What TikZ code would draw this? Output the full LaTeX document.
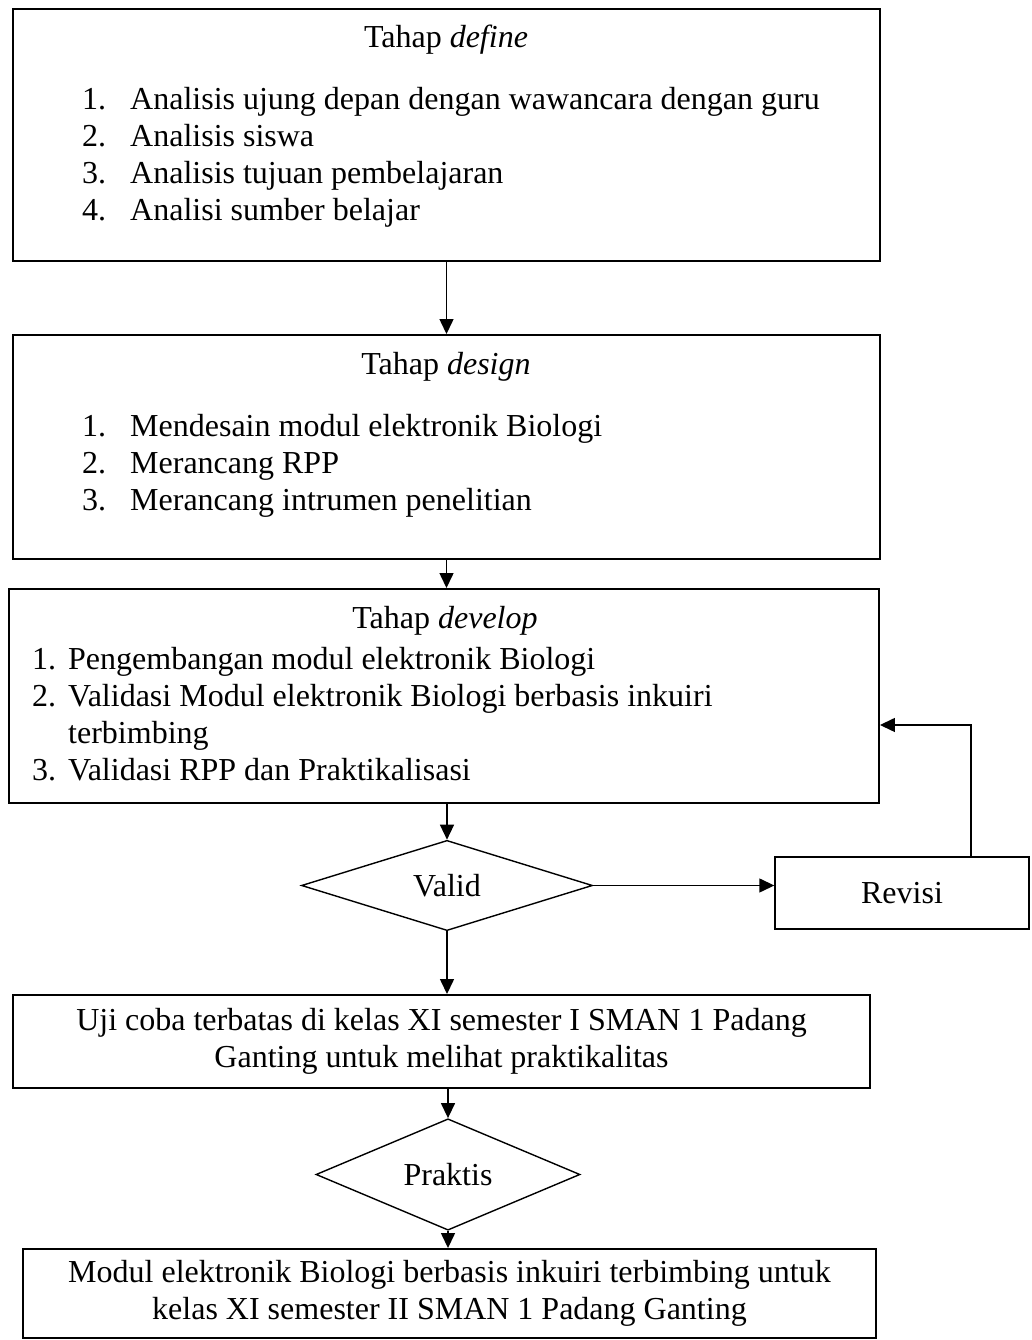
\documentclass[tikz,border=0pt]{standalone}
\usepackage{fontspec}
\setmainfont{Liberation Serif}
\usepackage{tikz}
\usetikzlibrary{arrows.meta}
\usetikzlibrary{shapes.geometric}

\begin{document}
\begin{tikzpicture}[>={Triangle[length=15bp,width=14bp]},line join=miter,
  font=\fontsize{32bp}{37bp}\selectfont,
  box/.style={draw,line width=1.9bp,inner sep=0pt},
  decision/.style={diamond,draw,line width=1.4bp,inner sep=0pt},
  txt/.style={inner sep=0pt}]
\useasboundingbox (0bp,0bp) rectangle (1032bp,1340bp);
%%
\node (node_define) at (446.5bp,1205bp) [box,minimum width=867bp,minimum height=252bp] {};
  \node (define_title) at (446bp,1292bp) [txt,anchor=base] {Tahap \textit{define}};
  \node (define_list) at (82bp,1230bp) [txt,anchor=base west] {\begin{tabular}[t]{@{}p{48bp}@{}l@{}}
    1. & Analisis ujung depan dengan wawancara dengan guru\\
    2. & Analisis siswa\\
    3. & Analisis tujuan pembelajaran\\
    4. & Analisi sumber belajar
  \end{tabular}};
  \node (node_design) at (446.5bp,893bp) [box,minimum width=867bp,minimum height=224bp] {};
  \node (design_title) at (446bp,965bp) [txt,anchor=base] {Tahap \textit{design}};
  \node (design_list) at (82bp,903bp) [txt,anchor=base west] {\begin{tabular}[t]{@{}p{48bp}@{}l@{}}
    1. & Mendesain modul elektronik Biologi\\
    2. & Merancang RPP\\
    3. & Merancang intrumen penelitian
  \end{tabular}};
  \node (node_develop) at (444bp,644bp) [box,minimum width=870bp,minimum height=214bp] {};
  \node (develop_title) at (445bp,711bp) [txt,anchor=base] {Tahap \textit{develop}};
  \node (develop_list) at (32bp,670bp) [txt,anchor=base west] {\begin{tabular}[t]{@{}p{36bp}@{}l@{}}
    1. & Pengembangan modul elektronik Biologi\\
    2. & Validasi Modul elektronik Biologi berbasis inkuiri\\
       & terbimbing\\
    3. & Validasi RPP dan Praktikalisasi
  \end{tabular}};
  \node (node_valid) at (447bp,454.5bp) [decision,minimum width=291bp,minimum height=87bp] {Valid};
  \node (node_revisi) at (902bp,447bp) [box,line width=1.4bp,minimum width=254bp,minimum height=72bp] {Revisi};
  \node (node_uji) at (441.5bp,298.5bp) [box,minimum width=857bp,minimum height=93bp,align=center] {Uji coba terbatas di kelas XI semester I SMAN 1 Padang\\ Ganting untuk melihat praktikalitas};
  \node (node_praktis) at (448bp,165.5bp) [decision,minimum width=264bp,minimum height=87bp] {Praktis};
  \node (node_modul) at (449.5bp,46.5bp) [box,minimum width=853bp,minimum height=89bp,align=center] {Modul elektronik Biologi berbasis inkuiri terbimbing untuk\\ kelas XI semester II SMAN 1 Padang Ganting};
  \coordinate (back_turn) at (971bp,615bp);
  \draw [black,line width=1.4bp,->] (node_define.south) -- (node_design.north);
  \draw [black,line width=1.4bp,->] (node_design.south) -- (node_design.south |- node_develop.north);
  \draw [black,line width=1.4bp,->] (node_valid.north |- node_develop.south) -- (node_valid.north);
  \draw [black,line width=1.4bp,->] (node_valid.east) -- (node_valid.east -| node_revisi.west);
  \draw [black,line width=1.4bp,->] (node_revisi.north -| back_turn) |- (node_develop.east |- back_turn);
  \draw [black,line width=1.4bp,->] (node_valid.south) -- (node_valid.south |- node_uji.north);
  \draw [black,line width=1.4bp,->] (node_praktis.north |- node_uji.south) -- (node_praktis.north);
  \draw [black,line width=1.4bp,->] (node_praktis.south) -- (node_praktis.south |- node_modul.north);
%
\end{tikzpicture}
\end{document}
